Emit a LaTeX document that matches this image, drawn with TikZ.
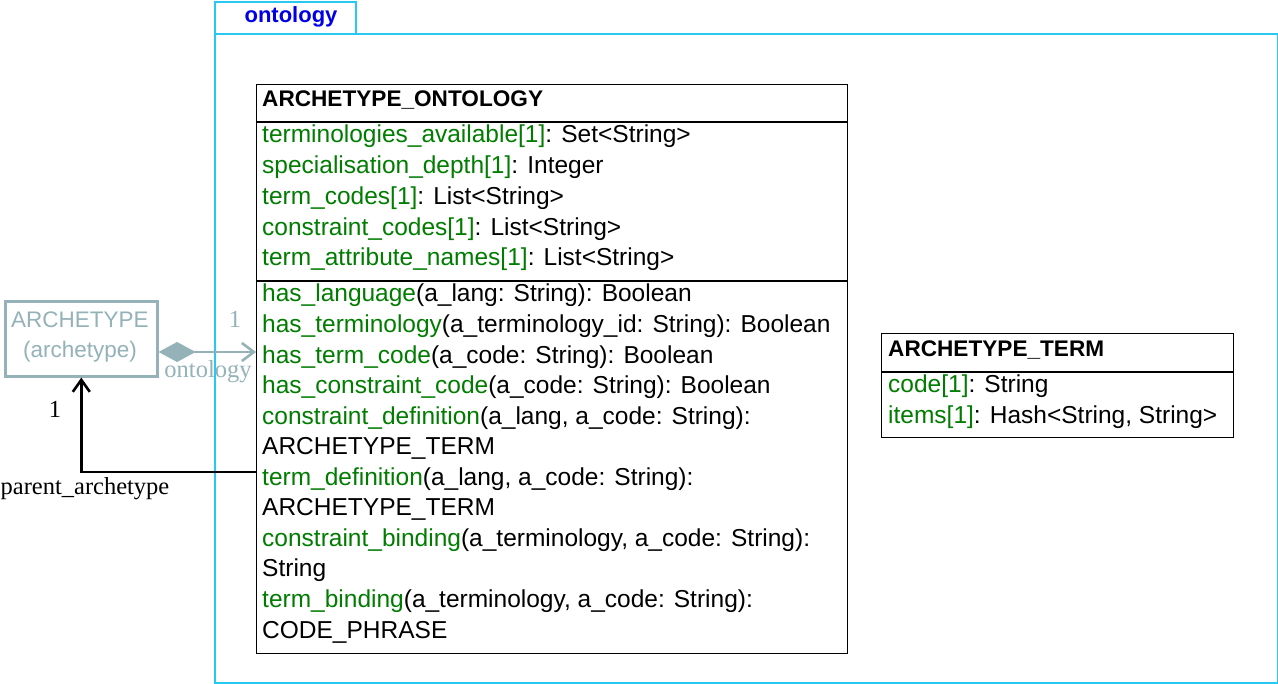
\documentclass[tikz,border=0pt]{standalone}
\usepackage{fontspec}
\setmainfont{Liberation Serif}
\setsansfont{Liberation Sans}
\usetikzlibrary{arrows.meta}
\definecolor{umlgreen}{RGB}{0,125,0}
\definecolor{pkgcyan}{RGB}{40,200,245}
\definecolor{pkgblue}{RGB}{0,0,230}
\definecolor{refgray}{RGB}{148,178,184}
\newcommand\feat[1]{\textcolor{umlgreen}{#1}}
\tikzset{
  classbox/.style={draw, line width=1.3pt, fill=white, anchor=north west, inner sep=0pt},
  classtitle/.style={anchor=base west, inner sep=0pt, font=\sffamily\bfseries\fontsize{22.6}{27}\selectfont},
  member/.style={anchor=base west, inner sep=0pt, font=\sffamily\fontsize{24.5}{30}\selectfont},
  pkgline/.style={draw=pkgcyan, line width=2pt, anchor=north west, inner sep=0pt},
  lbl/.style={anchor=base, inner sep=0pt, font=\fontsize{24.5}{29}\selectfont},
}
\begin{document}
\begin{tikzpicture}[x=1pt,y=-1pt]
  \useasboundingbox (0,0) rectangle (1278,684);
  % package
  \node[pkgline, minimum width=1063pt, minimum height=649pt] (pkg) at (214,33) {};
  \node[pkgline, minimum width=141pt, minimum height=32pt] (pkgtab) at (214,1) {};
  \node[anchor=base, text=pkgblue, font=\sffamily\bfseries\fontsize{22}{26}\selectfont] (pkgname) at (291,23) {ontology};
  % ARCHETYPE_ONTOLOGY
  \node[classbox, minimum width=591pt, minimum height=569pt] (onto) at (256,84) {};
  \coordinate (ontosep1) at (0,122);
  \coordinate (ontosep2) at (0,281);
  \draw[line width=1.3pt] (onto.west |- ontosep1) -- (onto.east |- ontosep1)
    (onto.west |- ontosep2) -- (onto.east |- ontosep2);
  \node[classtitle] (ontotitle) at (262,107) {ARCHETYPE\_ONTOLOGY};
  \foreach \txt [count=\i from 0] in {
      {\feat{terminologies\_available[1]}: Set<String>},
      {\feat{specialisation\_depth[1]}: Integer},
      {\feat{term\_codes[1]}: List<String>},
      {\feat{constraint\_codes[1]}: List<String>},
      {\feat{term\_attribute\_names[1]}: List<String>}}
    \node[member] (ontoattr\i) at (262,{143+30.7*\i}) {\txt};
  \foreach \txt [count=\i from 0] in {
      {\feat{has\_language}(a\_lang: String): Boolean},
      {\feat{has\_terminology}(a\_terminology\_id: String): Boolean},
      {\feat{has\_term\_code}(a\_code: String): Boolean},
      {\feat{has\_constraint\_code}(a\_code: String): Boolean},
      {\feat{constraint\_definition}(a\_lang, a\_code: String):},
      {ARCHETYPE\_TERM},
      {\feat{term\_definition}(a\_lang, a\_code: String):},
      {ARCHETYPE\_TERM},
      {\feat{constraint\_binding}(a\_terminology, a\_code: String):},
      {String},
      {\feat{term\_binding}(a\_terminology, a\_code: String):},
      {CODE\_PHRASE}}
    \node[member] (ontoop\i) at (262,{302+30.55*\i}) {\txt};
  % ARCHETYPE_TERM
  \node[classbox, minimum width=352pt, minimum height=104pt] (term) at (881,333) {};
  \coordinate (termsep) at (0,372);
  \draw[line width=1.3pt] (term.west |- termsep) -- (term.east |- termsep);
  \node[classtitle] (termtitle) at (888,357) {ARCHETYPE\_TERM};
  \node[member] (termattr0) at (888,393) {\feat{code[1]}: String};
  \node[member] (termattr1) at (888,424) {\feat{items[1]}: Hash<String, String>};
  % ARCHETYPE (other package)
  \node[classbox, draw=refgray, line width=2.6pt, minimum width=152pt, minimum height=75pt] (arch) at (4,300) {};
  \node[anchor=base, inner sep=0pt, text=refgray, font=\sffamily\fontsize{22.5}{27}\selectfont] (archname) at (80,328) {ARCHETYPE};
  \node[anchor=base, inner sep=0pt, text=refgray, font=\sffamily\fontsize{22.5}{27}\selectfont] (archpkg) at (80,358) {(archetype)};
  % associations
  \coordinate (compy) at (0,352);
  \coordinate (parenty) at (0,472);
  \draw[refgray, line width=2.6pt, {Diamond[length=37pt,width=20pt]}-{Straight Barb[length=12pt,width=18pt]}]
    (arch.east |- compy) -- (onto.west |- compy);
  \draw[line width=2.6pt, -{Straight Barb[length=12pt,width=17pt]}]
    (onto.west |- parenty) -| (arch.south);
  \node[lbl, text=refgray] (compmult) at (235,328) {1};
  \node[lbl, text=refgray] (comprole) at (208,378) {ontology};
  \node[lbl] (parentmult) at (55,418) {1};
  \node[lbl] (parentrole) at (85,495) {parent\_archetype};
\end{tikzpicture}
\end{document}
